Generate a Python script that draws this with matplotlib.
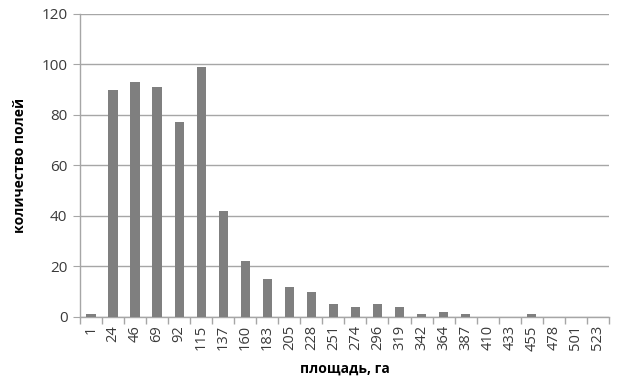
import numpy as np
import matplotlib
matplotlib.use("Agg")
import matplotlib.pyplot as plt

# площадь, га (category labels) and field counts
areas = ["1", "24", "46", "69", "92", "115", "137", "160", "183", "205", "228", "251",
         "274", "296", "319", "342", "364", "387", "410", "433", "455", "478", "501", "523"]
counts = [1, 90, 93, 91, 77, 99, 42, 22, 15, 12, 10, 5,
          4, 5, 4, 1, 2, 1, 0, 0, 1, 0, 0, 0]

BAR = "#7f7f7f"
GRID = "#a6a6a6"
TEXT = "#3a3a3a"

plt.rcParams.update({
    "font.family": ["Open Sans", "DejaVu Sans"],
})

fig = plt.figure(figsize=(6.2, 3.85), dpi=100)
ax = fig.add_axes([0.129, 0.177, 0.853, 0.787])

x = np.arange(len(areas))
ax.bar(x, counts, width=0.42, color=BAR, zorder=3)

ax.set_xlim(-0.5, len(areas) - 0.5)
ax.set_ylim(0, 120)
ax.set_yticks(range(0, 121, 20))
ax.yaxis.grid(True, color=GRID, linewidth=1.0, zorder=0)
ax.set_axisbelow(True)

ax.set_xticks(x)
ax.set_xticklabels(areas, rotation=90, fontsize=10.5, color=TEXT)
ax.tick_params(axis="x", which="major", length=0, pad=6)
# Excel-style tick marks at category boundaries
ax.set_xticks(np.arange(-0.5, len(areas)), minor=True)
ax.tick_params(axis="x", which="minor", length=5, color=GRID, width=1)
ax.tick_params(axis="y", length=5, color=GRID, labelsize=11, labelcolor=TEXT, pad=4)

for s in ["top", "right"]:
    ax.spines[s].set_visible(False)
for s in ["left", "bottom"]:
    ax.spines[s].set_color(GRID)
    ax.spines[s].set_linewidth(1.0)

ax.set_ylabel("количество полей", fontsize=10, fontweight="bold", color="black", labelpad=10)
ax.set_xlabel("площадь, га", fontsize=10, fontweight="bold", color="black", labelpad=8)

plt.savefig("out.png", dpi=100)
